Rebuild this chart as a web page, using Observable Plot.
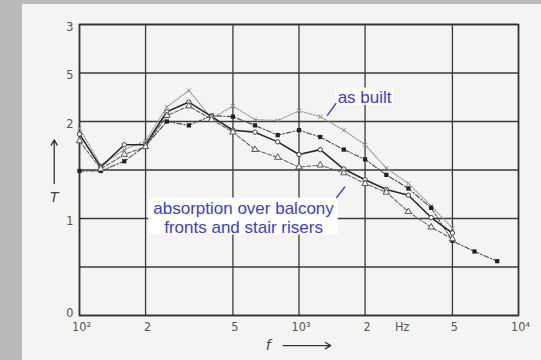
<!DOCTYPE html>
<html>
<head>
<meta charset="utf-8">
<script src="https://cdn.jsdelivr.net/npm/d3@7"></script>
<script src="https://cdn.jsdelivr.net/npm/@observablehq/plot@0.6"></script>
<style>
  html, body { margin: 0; padding: 0; }
  #wrap { position: relative; width: 541px; height: 360px; background: #bababa; overflow: hidden; }
  #chart { position: absolute; left: 22px; top: 4px; }
  #chart svg { display: block; }
</style>
</head>
<body>
<div id="wrap"><div id="chart"></div></div>
<script>
// ---- data ----
const freqs = [100,125,160,200,250,315,400,500,630,800,1000,1250,1600,2000,2500,3150,4000,5000,6300,8000];
const asBuilt   = [1.93,1.55,1.71,1.80,2.15,2.32,2.03,2.16,2.02,2.01,2.11,2.05,1.91,1.76,1.52,1.36,1.13,0.90];
const variantB  = [1.49,1.49,1.59,1.75,2.00,1.96,2.06,2.05,1.96,1.86,1.91,1.84,1.71,1.61,1.45,1.31,1.11,0.77,0.66,0.56];
const variantC  = [1.87,1.53,1.76,1.76,2.10,2.20,2.05,1.91,1.89,1.79,1.66,1.71,1.51,1.40,1.30,1.24,1.01,0.85];
const balcony   = [1.80,1.51,1.66,1.74,2.06,2.16,2.02,1.89,1.71,1.63,1.53,1.55,1.47,1.36,1.27,1.07,0.91,0.79];

const xTicks = [100,200,500,1000,2000,5000,10000];
const xTickLabels = ["10²","2","5","10³","2","5","10⁴"];
const yGridValues = [0,0.5,1,1.5,2,2.5,3];
const yTicks = [1,2,2.5,3];
const yTickLabels = ["1","2","5","3"];
const yZeroTick = [0];
const yZeroLabel = ["0"];
const unitLabel = ["Hz"];
const unitPos = [2950];

// annotation anchors (data coordinates)
const noteBoxes = [
  {x1: 1470, x2: 2700, y1: 2.165, y2: 2.345},
  {x1: 207, x2: 1510, y1: 0.83, y2: 1.21}
];
const notes = [
  {x: 1990, y: 2.255, text: "as built"},
  {x: 559, y: 1.015, text: "absorption over balcony\nfronts and stair risers"}
];
const leaders = [
  {x1: 1344, y1: 2.06, x2: 1477, y2: 2.19},
  {x1: 1481, y1: 1.214, x2: 1621, y2: 1.328}
];
const axisTitles = [
  {x: 76.7, y: 1.215, text: "T"},
  {x: 724, y: -0.31, text: "f"}
];
const axisArrows = [
  {x1: 76.7, y1: 1.36, x2: 76.7, y2: 1.81},
  {x1: 847, y1: -0.31, x2: 1395, y2: -0.31}
];

// ---- build rows ----
const seriesDefs = [
  {name: "as built", values: asBuilt},
  {name: "B", values: variantB},
  {name: "C", values: variantC},
  {name: "balcony", values: balcony}
];
const rows = seriesDefs.flatMap(s => s.values.map((v, i) => ({series: s.name, f: freqs[i], T: v})));
const sel = n => rows.filter(r => r.series === n);

const tickFont = "'DejaVu Sans Condensed', 'DejaVu Sans', sans-serif";
const tickColor = "#555";

const chart = Plot.plot({
  width: 519,
  height: 356,
  marginLeft: 57,
  marginRight: 23,
  marginTop: 20,
  marginBottom: 45,
  style: {background: "#f4f4f3", overflow: "visible"},
  x: {type: "log", domain: [100, 10000], axis: null},
  y: {domain: [0, 3], axis: null},
  marks: [
    Plot.gridX(xTicks, {stroke: "#3a3a3a", strokeOpacity: 1, strokeWidth: 1.3}),
    Plot.gridY(yGridValues, {stroke: "#3a3a3a", strokeOpacity: 1, strokeWidth: 1.3}),
    Plot.frame({stroke: "#333", strokeWidth: 1.6}),

    // tick labels
    Plot.text(xTicks, {x: d => d, text: (d, i) => xTickLabels[i], frameAnchor: "bottom", dy: 15, dx: 2, fontSize: 12.5, fontFamily: tickFont, fill: tickColor}),
    Plot.text(unitPos, {x: d => d, text: (d, i) => unitLabel[i], frameAnchor: "bottom", dy: 15, fontSize: 12.5, fontFamily: tickFont, fill: tickColor}),
    Plot.text(yTicks, {y: d => d, text: (d, i) => yTickLabels[i], frameAnchor: "left", textAnchor: "end", dx: -6, dy: 2, fontSize: 12.5, fontFamily: tickFont, fill: tickColor}),
    Plot.text(yZeroTick, {y: d => d, text: (d, i) => yZeroLabel[i], frameAnchor: "left", textAnchor: "end", dx: -6, dy: -3, fontSize: 12.5, fontFamily: tickFont, fill: tickColor}),

    // as built: light dotted
    Plot.line(sel("as built"), {x: "f", y: "T", stroke: "#9c9c9c", strokeWidth: 1.2, strokeDasharray: "1.5,1.5"}),
    Plot.dot(sel("as built"), {x: "f", y: "T", symbol: "times", r: 2, stroke: "#8a8a8a", strokeWidth: 1}),
    // B: dash-dot, filled squares
    Plot.line(sel("B"), {x: "f", y: "T", stroke: "#4a4a4a", strokeWidth: 1.1, strokeDasharray: "5,2,1.5,2"}),
    Plot.dot(sel("B"), {x: "f", y: "T", symbol: "square", r: 2.4, fill: "#222", stroke: "none"}),
    // C: solid, open circles
    Plot.line(sel("C"), {x: "f", y: "T", stroke: "#2a2a2a", strokeWidth: 1.6}),
    Plot.dot(sel("C"), {x: "f", y: "T", symbol: "circle", r: 2.2, fill: "#f4f4f3", stroke: "#444", strokeWidth: 1}),
    // balcony absorption: dashed, open triangles
    Plot.line(sel("balcony"), {x: "f", y: "T", stroke: "#666", strokeWidth: 1.1, strokeDasharray: "4,2"}),
    Plot.dot(sel("balcony"), {x: "f", y: "T", symbol: "triangle", r: 2.4, fill: "#f4f4f3", stroke: "#555", strokeWidth: 1}),

    // annotations
    Plot.rect(noteBoxes, {x1: "x1", x2: "x2", y1: "y1", y2: "y2", fill: "white"}),
    Plot.link(leaders, {x1: "x1", y1: "y1", x2: "x2", y2: "y2", stroke: "#3b3bdc", strokeWidth: 1.4}),
    Plot.text(notes, {x: "x", y: "y", text: "text", fill: "#3b3bdc", fontSize: 17, lineHeight: 1.15, fontFamily: "'Liberation Sans', Arial, sans-serif"}),

    // axis titles with arrows
    Plot.text(axisTitles, {x: "x", y: "y", text: "text", fontSize: 14, fontStyle: "italic", fill: "#444", fontFamily: "'DejaVu Sans', sans-serif"}),
    Plot.arrow(axisArrows, {x1: "x1", y1: "y1", x2: "x2", y2: "y2", stroke: "#333", strokeWidth: 1.3, headLength: 7})
  ]
});
document.getElementById("chart").appendChild(chart);
</script>
</body>
</html>
